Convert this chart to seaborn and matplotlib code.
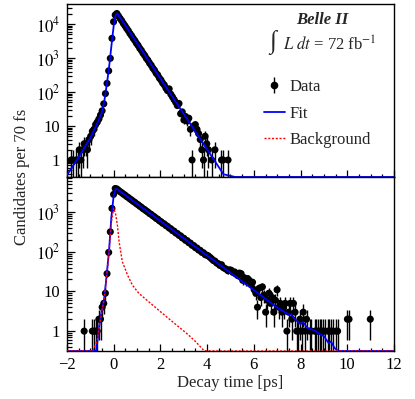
import numpy as np
import pandas as pd
import seaborn as sns
import matplotlib
matplotlib.use("Agg")
import matplotlib.pyplot as plt
from matplotlib.lines import Line2D
from matplotlib.legend_handler import HandlerTuple
from matplotlib.ticker import LogLocator, FuncFormatter, MultipleLocator, NullFormatter

# ---------------- data ----------------
bin_width = 0.07          # ps (70 fs)
first_center = -1.965     # ps

# Upper panel: candidates per bin
top_counts = [
    0, 0, 1, 1, 0, 1, 1, 2, 1, 2,
    3, 3, 2, 4, 5, 7, 8, 11, 13, 16,
    21, 28, 45, 90, 180, 420, 980, 3800, 11700, 18500,
    20500, 17300, 14600, 12500, 10400, 8900, 7450, 6400, 5300, 4550,
    3800, 3270, 2720, 2350, 1940, 1680, 1390, 1200, 990, 860,
    710, 615, 505, 440, 360, 318, 258, 225, 185, 162,
    130, 110, 124, 86, 72, 60, 50, 40, 46, 23,
    26, 15, 19, 14, 17, 8, 1, 10, 11, 8,
    6, 4, 2, 1, 5, 3, 2, 0, 1, 0,
    2, 0, 0, 0, 1, 1, 0, 0, 1,
] + [0] * 101

# Lower panel: candidates per bin
bottom_counts = [
    0, 0, 0, 0, 0, 0, 0, 0, 0, 0,
    1, 0, 0, 0, 0, 1, 1, 1, 1, 2,
    2, 4, 5, 9, 28, 96, 316, 1230, 2770, 3900,
    3800, 3520, 3240, 3060, 2820, 2660, 2450, 2310, 2130, 2010,
    1850, 1750, 1610, 1520, 1400, 1320, 1210, 1150, 1060, 1000,
    915, 870, 800, 755, 690, 660, 600, 570, 520, 500,
    455, 435, 395, 378, 340, 330, 296, 287, 258, 250,
    222, 218, 193, 190, 168, 165, 145, 143, 126, 124,
    110, 108, 96, 94, 84, 82, 78, 72, 66, 60,
    58, 52, 50, 45, 47, 40, 38, 36, 33, 35,
    34, 30, 31, 27, 25, 29, 28, 19, 22, 18,
    21, 19, 15, 17, 11, 9, 4, 12, 7, 13,
    8, 3, 6, 9, 5, 7, 3, 6, 11, 4,
    5, 3, 4, 5, 1, 3, 5, 2, 5, 3,
    1, 1, 2, 1, 3, 1, 2, 0, 1, 1,
    0, 1, 1, 1, 1, 1, 1, 1, 0, 1,
    1, 1, 1, 0, 1, 1,
] + [0] * 5 + [2, 2] + [0] * 12 + [2] + [0] * 14

# Fit curves (values read at key times)
top_fit_t = [-2.0, -1.5, -1.0, -0.7, -0.5, -0.4, -0.3, -0.2, -0.1, 0.0, 0.08, 0.15,
             0.25, 4.3, 4.7, 5.2, 12.0]
top_fit_v = [0.36, 1.2, 4.5, 12, 26, 55, 160, 520, 2200, 9000, 18000, 20500,
             16500, 1.0, 0.38, 0.1, 1e-6]

bot_fit_t = [-2.0, -0.75, -0.6, -0.5, -0.4, -0.3, -0.2, -0.1, 0.0, 0.08, 0.15, 4.0,
             6.0, 7.0, 7.5, 7.6, 7.8, 8.0, 8.1, 8.3, 8.6, 8.8, 9.0, 9.2, 9.3, 9.45,
             9.6, 10.0, 12.0]
bot_fit_v = [0.05, 0.3, 1.6, 3.5, 7.0, 26, 105, 750, 2600, 3800, 3750, 80,
             10.8, 3.9, 2.6, 2.6, 1.9, 1.5, 1.7, 1.2, 1.05, 0.85, 0.75, 0.5, 0.55, 0.38,
             0.3, 0.1, 0.01]

bot_bkg_t = [-2.0, -0.9, -0.7, -0.6, -0.5, -0.4, -0.3, -0.2, -0.1, 0.0, 0.08, 0.16,
             0.23, 0.37, 0.59, 0.8, 1.08, 1.58, 2.3, 3.15, 3.5, 3.87, 4.5, 12.0]
bot_bkg_v = [0.05, 0.2, 0.6, 1.5, 3.3, 6.8, 25, 95, 550, 1250, 900, 460,
             180, 56, 26, 14.4, 8.9, 5.0, 2.2, 0.85, 0.55, 0.32, 0.1, 1e-4]

x_ticks = [-2, 0, 2, 4, 6, 8, 10, 12]
top_ylim = (0.316, 3.9e4)
bot_ylim = (0.316, 7.6e3)

# ---------------- style ----------------
sns.set_theme(style="ticks")
plt.rcParams.update({
    "font.family": ["Liberation Serif", "DejaVu Serif"],
    "mathtext.fontset": "stix",
    "font.size": 12,
    "axes.linewidth": 1.0,
    "axes.edgecolor": "black",
    "xtick.color": "black",
    "ytick.color": "black",
    "xtick.labelsize": 12,
    "ytick.labelsize": 12,
})

fig = plt.figure(figsize=(4.15, 3.99), dpi=100)
ax1 = fig.add_axes([0.1614, 0.5564, 0.788, 0.4336])
ax2 = fig.add_axes([0.1614, 0.1203, 0.788, 0.4361])


def log_label(v, pos):
    e = int(round(np.log10(v)))
    if e == 0:
        return "1"
    if e == 1:
        return "10"
    return r"$10^{%d}$" % e


def draw_panel(ax, counts, fit_t, fit_v, ylim, bkg_t=None, bkg_v=None):
    counts = np.asarray(counts, dtype=float)
    t = first_center + bin_width * np.arange(len(counts))
    ax.set_yscale("log")
    ax.set_xlim(-2, 12)
    ax.set_ylim(*ylim)
    m = counts > 0
    err = np.sqrt(counts[m])
    lo = np.maximum(counts[m] - err, 1e-3)
    hi = counts[m] + err
    ax.vlines(t[m], lo, hi, color="black", lw=1.0, zorder=2)
    df = pd.DataFrame({"t": t[m], "n": counts[m]})
    sns.scatterplot(data=df, x="t", y="n", ax=ax, color="black", s=26,
                    edgecolor="none", linewidth=0, zorder=3, legend=False)
    if bkg_t is not None:
        dfb = pd.DataFrame({"t": bkg_t, "v": np.maximum(bkg_v, ylim[0])})
        sns.lineplot(data=dfb, x="t", y="v", ax=ax, color="#ff0000", lw=1.0,
                     linestyle=(0, (1.5, 1.2)), estimator=None, sort=False, zorder=5)
    dff = pd.DataFrame({"t": fit_t, "v": np.maximum(fit_v, ylim[0])})
    sns.lineplot(data=dff, x="t", y="v", ax=ax, color="#0000ff", lw=1.3,
                 estimator=None, sort=False, zorder=4)
    ax.set_xlabel("")
    ax.set_ylabel("")
    ax.xaxis.set_major_locator(MultipleLocator(2))
    ax.xaxis.set_minor_locator(MultipleLocator(0.5))
    ax.yaxis.set_major_locator(LogLocator(base=10, numticks=20))
    ax.yaxis.set_minor_locator(LogLocator(base=10, subs=np.arange(2, 10), numticks=100))
    ax.yaxis.set_major_formatter(FuncFormatter(log_label))
    ax.yaxis.set_minor_formatter(NullFormatter())
    ax.tick_params(which="both", direction="in", top=False, right=False)
    ax.tick_params(axis="x", which="major", length=5, width=0.9, pad=4)
    ax.tick_params(axis="x", which="minor", length=2.5, width=0.9)
    ax.tick_params(axis="y", which="major", length=6, width=0.9, pad=5)
    ax.tick_params(axis="y", which="minor", length=3.5, width=0.9)
    for s in ax.spines.values():
        s.set_visible(True)
        s.set_linewidth(1.0)
        s.set_color("black")


draw_panel(ax1, top_counts, top_fit_t, top_fit_v, top_ylim)
draw_panel(ax2, bottom_counts, bot_fit_t, bot_fit_v, bot_ylim, bot_bkg_t, bot_bkg_v)

ax1.tick_params(labelbottom=False)
ax2.set_xticks(x_ticks)
ax2.set_xticklabels(["\u22122" if v < 0 else str(v) for v in x_ticks])
ax2.set_xlabel("Decay time [ps]", fontsize=12, labelpad=2)

fig.text(0.053, 0.556, "Candidates per 70 fs", rotation=90, ha="center",
         va="center", fontsize=12)

ax1.text(0.78, 0.905, "Belle II", transform=ax1.transAxes, ha="center",
         va="center", fontsize=12, fontweight="bold", fontstyle="italic")
ax1.text(0.630, 0.775, "\u222b", transform=ax1.transAxes, ha="center",
         va="center", fontsize=18, family=["Liberation Serif", "DejaVu Serif"])
ax1.text(0.662, 0.763, r"$L\ dt$ = 72 fb$^{-1}$", transform=ax1.transAxes,
         ha="left", va="center", fontsize=12)

h_data = (Line2D([], [], marker="|", ms=12, mew=1.0, color="black", ls="none"),
          Line2D([], [], marker="o", ms=4.5, color="black", ls="none"))
h_fit = Line2D([], [], color="#0000ff", lw=1.3)
h_bkg = Line2D([], [], color="#ff0000", lw=1.0, linestyle=(0, (1.5, 1.2)))
ax1.legend([h_data, h_fit, h_bkg], ["Data", "Fit", "Background"],
           handler_map={tuple: HandlerTuple(ndivide=1, pad=0)},
           loc="upper left", bbox_to_anchor=(0.601, 0.567), frameon=False,
           handlelength=1.3, handletextpad=0.25, labelspacing=0.64,
           fontsize=12, borderaxespad=0, borderpad=0)

fig.savefig("out.png", dpi=100)
